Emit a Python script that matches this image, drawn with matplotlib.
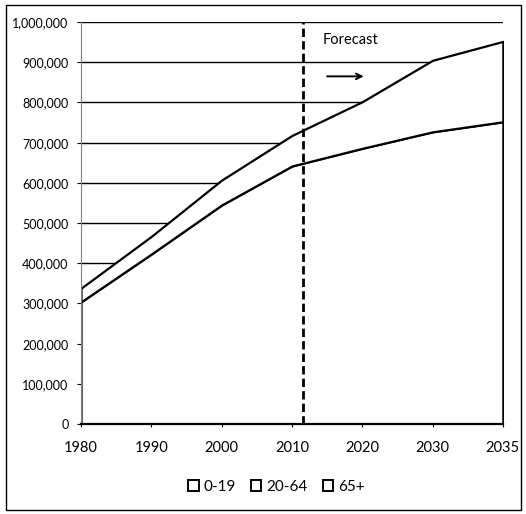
# -- coding: utf-8 --
# 人口推移（年齢区分別・積み上げ面グラフ）
import matplotlib.pyplot as plt
from matplotlib.patches import Patch, Rectangle
from matplotlib.ticker import FuncFormatter

years = ["1980", "1990", "2000", "2010", "2020", "2030", "2035"]
groups = ["0-19", "20-64", "65+"]
# 読み取れる境界線のみ（0-64歳の合計と総数）
under_65 = [304000, 423000, 545000, 642000, 686000, 727000, 752000]
total = [338000, 467000, 607000, 718000, 802000, 905000, 952000]
forecast_pos = 3.16  # 推計開始位置（カテゴリ軸上）

plt.rcParams['font.family'] = ['Lato', 'DejaVu Sans']

fig = plt.figure(figsize=(5.26, 5.14), dpi=100)
ax = fig.add_axes([0.154, 0.175, 0.802, 0.782])

x = list(range(len(years)))
ax.fill_between(x, 0, under_65, facecolor="white", edgecolor="black", linewidth=1.6, zorder=2)
ax.fill_between(x, under_65, total, facecolor="white", edgecolor="black", linewidth=1.6, zorder=2)

ax.axvline(forecast_pos, ymin=0, ymax=1, color="black", linestyle=(0, (3, 1.5)), linewidth=2, zorder=4)
ax.text(forecast_pos + 0.27, 955000, "Forecast", fontsize=10.5, va="center", ha="left")
ax.annotate("", xy=(forecast_pos + 0.9, 865000), xytext=(forecast_pos + 0.3, 865000),
            arrowprops=dict(arrowstyle="->", color="black", lw=1.4))

ax.set_xlim(0, len(years) - 1)
ax.set_ylim(0, 1000000)
ax.set_xticks(x)
ax.set_xticklabels(years)
ax.set_yticks(range(0, 1000001, 100000))
ax.yaxis.set_major_formatter(FuncFormatter(lambda v, p: "{:,.0f}".format(v)))
ax.tick_params(axis="y", labelsize=9, length=3, width=0.8, pad=6)
ax.tick_params(axis="x", labelsize=10.5, length=2, width=0.8, pad=10)

ax.set_axisbelow(True)
ax.yaxis.grid(True, color="black", linewidth=1.0)
for s in ["top", "right"]:
    ax.spines[s].set_visible(False)
ax.spines["left"].set_color("gray")
ax.spines["left"].set_linewidth(0.8)
ax.spines["left"].set_linestyle((0, (3, 1)))
ax.spines["bottom"].set_linewidth(1.6)

handles = [Patch(facecolor="white", edgecolor="black", linewidth=1.4, label=g) for g in groups]
fig.legend(handles=handles, loc="center", bbox_to_anchor=(0.525, 0.053), ncol=3, frameon=False,
           fontsize=11, handlelength=0.7, handleheight=0.7, handletextpad=0.3, columnspacing=1.0)

fig.patches.append(Rectangle((0.011, 0.008), 0.98, 0.982, transform=fig.transFigure,
                             fill=False, edgecolor="black", linewidth=1.0))

plt.savefig("out.png")
